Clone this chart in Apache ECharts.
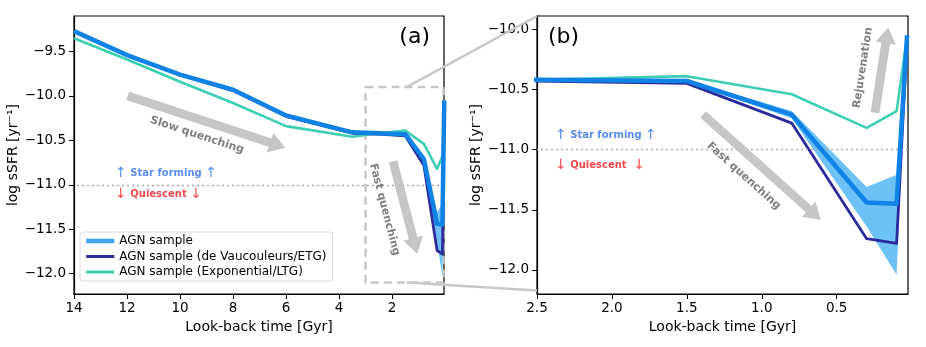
<!DOCTYPE html>
<html>
<head>
<meta charset="utf-8">
<script src="https://cdn.jsdelivr.net/npm/echarts@6/dist/echarts.min.js"></script>
<style>
  html, body { margin: 0; padding: 0; background: #fff; }
  #main { width: 926px; height: 347px; }
</style>
</head>
<body>
<div id="main"></div>
<script>
// look-back time of every point [Gyr]
var times = [14, 12, 10, 8, 6, 3.5, 2.5, 1.5, 0.8, 0.3, 0.1, 0.03];
// log sSFR of each sample
var agnAll = [-9.27, -9.54, -9.76, -9.93, -10.22, -10.41, -10.42, -10.43, -10.71, -11.44, -11.45, -10.05];
var agnETG = [-9.27, -9.54, -9.76, -9.94, -10.23, -10.42, -10.43, -10.45, -10.78, -11.74, -11.78, -10.08];
var agnLTG = [-9.35, -9.59, -9.84, -10.08, -10.34, -10.46, -10.42, -10.39, -10.54, -10.82, -10.68, -10.06];
// spread of the whole AGN sample
var bandHigh = [-9.26, -9.53, -9.75, -9.92, -10.21, -10.40, -10.41, -10.42, -10.68, -11.31, -11.21, -10.05];
var bandLow = [-9.28, -9.55, -9.77, -9.94, -10.23, -10.42, -10.43, -10.44, -10.74, -11.64, -12.04, -10.05];
// tick labels
var xTicksA = [14, 12, 10, 8, 6, 4, 2];
var xTicksB = [2.5, 2.0, 1.5, 1.0, 0.5];
var yTicksA = [-12, -11.5, -11, -10.5, -10, -9.5];
var yTicksB = [-12, -11.5, -11, -10.5, -10];

var FONT = 'DejaVu Sans';
var cBlue = '#0f82e6', cBand = '#6cc2f7', cDark = '#2b2b9c', cTeal = '#3ccfb4';

function pairs(vals) {
  return times.map(function (t, i) { return [t, vals[i]]; });
}

function minusFmt(v) {
  return (v < 0 ? '\u2212' : '') + Math.abs(v).toFixed(1);
}

function xAxis(gi, min, max, ticks, fmt) {
  return {
    type: 'value', gridIndex: gi, inverse: true, min: min, max: max,
    name: 'Look-back time [Gyr]', nameLocation: 'middle', nameGap: 22,
    nameTextStyle: { fontFamily: FONT, fontSize: 14, color: '#000' },
    axisLine: { show: true, onZero: false, lineStyle: { color: '#000', width: 1.2 } },
    axisTick: { show: true, length: 5, customValues: ticks, lineStyle: { color: '#000' } },
    axisLabel: { customValues: ticks, formatter: fmt, margin: 7, fontFamily: FONT, fontSize: 13.5, color: '#000' },
    splitLine: { show: false }
  };
}

function yAxis(gi, min, max, ticks, gap) {
  return {
    type: 'value', gridIndex: gi, min: min, max: max,
    name: 'log sSFR [yr\u207B\u00B9]', nameLocation: 'middle', nameRotate: 90, nameGap: gap,
    nameTextStyle: { fontFamily: FONT, fontSize: 14, color: '#000' },
    axisLine: { show: true, onZero: false, lineStyle: { color: '#000', width: 1.2 } },
    axisTick: { show: true, length: 5, customValues: ticks, lineStyle: { color: '#000' } },
    axisLabel: { customValues: ticks, formatter: minusFmt, margin: 8, fontFamily: FONT, fontSize: 13.5, color: '#000' },
    splitLine: { show: false }
  };
}

function bandSeries(gi) {
  return {
    type: 'custom', xAxisIndex: gi, yAxisIndex: gi, clip: true, silent: true, z: 1,
    data: times.map(function (t, i) { return [t, bandHigh[i], bandLow[i]]; }),
    renderItem: function (params, api) {
      if (params.dataIndex !== 0) return;
      var pts = [];
      for (var i = 0; i < times.length; i++) pts.push(api.coord([times[i], bandHigh[i]]));
      for (var j = times.length - 1; j >= 0; j--) pts.push(api.coord([times[j], bandLow[j]]));
      return { type: 'polygon', shape: { points: pts }, style: { fill: cBand } };
    }
  };
}

function lineSeries(gi, name, vals, color, width, z) {
  return {
    type: 'line', name: name, xAxisIndex: gi, yAxisIndex: gi,
    data: pairs(vals), symbol: 'none', z: z, clip: true, silent: true,
    lineStyle: { color: color, width: width, join: 'round' },
    itemStyle: { color: color }
  };
}

var sfLine = {
  silent: true, symbol: 'none', label: { show: false },
  lineStyle: { type: [2, 3], color: '#aaaaaa', width: 1.3 },
  data: [{ yAxis: -11 }]
};

var seriesList = [];
[0, 1].forEach(function (gi) {
  seriesList.push(bandSeries(gi));
  var teal = lineSeries(gi, 'AGN sample (Exponential/LTG)', agnLTG, cTeal, 2.6, 3);
  teal.markLine = sfLine;
  if (gi === 0) {
    teal.markArea = {
      silent: true,
      itemStyle: { color: 'rgba(0,0,0,0)', borderColor: '#c8c8c8', borderWidth: 2.5, borderType: [8, 5] },
      data: [[{ coord: [3.0, -9.9] }, { coord: [0.06, -12.1] }]]
    };
  }
  seriesList.push(teal);
  seriesList.push(lineSeries(gi, 'AGN sample (de Vaucouleurs/ETG)', agnETG, cDark, 2.8, 4));
  seriesList.push(lineSeries(gi, 'AGN sample', agnAll, cBlue, 4.5, 5));
});

var chart = echarts.init(document.getElementById('main'));
chart.setOption({
  animation: false,
  grid: [
    { left: 74, top: 16, width: 370, height: 278, show: true, borderColor: '#000', borderWidth: 1.2 },
    { left: 537, top: 16, width: 371, height: 278, show: true, borderColor: '#000', borderWidth: 1.2 }
  ],
  xAxis: [
    xAxis(0, 0.04, 14, xTicksA, function (v) { return String(v); }),
    xAxis(1, 0.024, 2.5, xTicksB, function (v) { return v.toFixed(1); })
  ],
  yAxis: [
    yAxis(0, -12.23, -9.1, yTicksA, 53),
    yAxis(1, -12.2, -9.89, yTicksB, 53)
  ],
  legend: {
    orient: 'vertical', left: 80, top: 232, itemWidth: 28, itemHeight: 14, itemGap: 3.5,
    padding: [3, 6, 3, 4], backgroundColor: 'rgba(255,255,255,0.85)',
    borderColor: '#d8d8d8', borderWidth: 1, borderRadius: 3,
    textStyle: { fontFamily: FONT, fontSize: 12, color: '#000' },
    itemStyle: { opacity: 0 },
    data: [
      { name: 'AGN sample', lineStyle: { color: '#3ba6ef', width: 4.5 } },
      { name: 'AGN sample (de Vaucouleurs/ETG)', lineStyle: { width: 3 } },
      { name: 'AGN sample (Exponential/LTG)', lineStyle: { width: 3 } }
    ],
    selectedMode: false
  },
  series: seriesList
});

// annotations, anchored in data space
function px(gi, p) { return chart.convertToPixel({ gridIndex: gi }, p); }

function arrowShape(a, b) {
  var dx = b[0] - a[0], dy = b[1] - a[1];
  var len = Math.sqrt(dx * dx + dy * dy);
  var ux = dx / len, uy = dy / len, nx = -uy, ny = ux;
  var w = 4, hw = 9.5, hl = 15;
  var nk = [b[0] - ux * hl, b[1] - uy * hl];
  return [
    [a[0] + nx * w, a[1] + ny * w], [nk[0] + nx * w, nk[1] + ny * w],
    [nk[0] + nx * hw, nk[1] + ny * hw], [b[0], b[1]],
    [nk[0] - nx * hw, nk[1] - ny * hw], [nk[0] - nx * w, nk[1] - ny * w],
    [a[0] - nx * w, a[1] - ny * w]
  ];
}

var arrows = [
  { gi: 0, from: [11.96, -10.0], to: [6.05, -10.58], text: 'Slow quenching', at: [9.36, -10.44] },
  { gi: 0, from: [1.96, -10.74], to: [1.06, -11.77], text: 'Fast quenching', at: [2.28, -11.28] },
  { gi: 1, from: [1.39, -10.71], to: [0.61, -11.58], text: 'Fast quenching', at: [1.12, -11.22] },
  { gi: 1, from: [0.244, -10.69], to: [0.157, -9.99], text: 'Rejuvenation', at: [0.325, -10.32] }
];

var graphics = [];
arrows.forEach(function (ar) {
  var a = px(ar.gi, ar.from), b = px(ar.gi, ar.to), t = px(ar.gi, ar.at);
  graphics.push({
    type: 'polygon', z: 10, silent: true,
    shape: { points: arrowShape(a, b) },
    style: { fill: '#c6c6c6', stroke: '#b8b8b8', lineWidth: 0.6 }
  });
  graphics.push({
    type: 'text', z: 11, silent: true, x: t[0], y: t[1],
    rotation: -Math.atan2(b[1] - a[1], b[0] - a[0]),
    style: { text: ar.text, fontFamily: FONT, fontWeight: 'bold', fontSize: 11, fill: '#808080', align: 'center', verticalAlign: 'middle' }
  });
});

var stateLabels = [
  { gi: 0, at: [12.45, -10.87], text: '{a|\u2191} Star forming {a|\u2191}', color: '#5b8def' },
  { gi: 0, at: [12.45, -11.11], text: '{a|\u2193} Quiescent {a|\u2193}', color: '#ef4a4e' },
  { gi: 1, at: [2.38, -10.88], text: '{a|\u2191} Star forming {a|\u2191}', color: '#5b8def' },
  { gi: 1, at: [2.38, -11.13], text: '{a|\u2193} Quiescent  {a|\u2193}', color: '#ef4a4e' }
];
stateLabels.forEach(function (s) {
  var p = px(s.gi, s.at);
  graphics.push({
    type: 'text', z: 11, silent: true, x: p[0], y: p[1],
    style: {
      text: s.text, fontFamily: FONT, fontWeight: 'bold', fontSize: 10, fill: s.color,
      align: 'left', verticalAlign: 'middle',
      rich: { a: { fontFamily: FONT, fontWeight: 'normal', fontSize: 14, fill: s.color } }
    }
  });
});

// panel letters
graphics.push({ type: 'text', z: 11, x: 430, y: 37, style: { text: '(a)', fontFamily: FONT, fontSize: 22, fill: '#000', align: 'right', verticalAlign: 'middle' } });
graphics.push({ type: 'text', z: 11, x: 548, y: 37, style: { text: '(b)', fontFamily: FONT, fontSize: 22, fill: '#000', align: 'left', verticalAlign: 'middle' } });

// zoom connectors from panel (a) box to panel (b)
var c1 = px(0, [1.45, -9.9]), c2 = px(1, [2.5, -9.89]);
var c3 = px(0, [1.45, -12.1]), c4 = px(1, [2.5, -12.17]);
[[c1, c2], [c3, c4]].forEach(function (seg) {
  graphics.push({
    type: 'line', z: 9, silent: true,
    shape: { x1: seg[0][0], y1: seg[0][1], x2: seg[1][0], y2: seg[1][1] },
    style: { stroke: '#c8c8c8', lineWidth: 2.5 }
  });
});

chart.setOption({ graphic: graphics });
</script>
</body>
</html>
